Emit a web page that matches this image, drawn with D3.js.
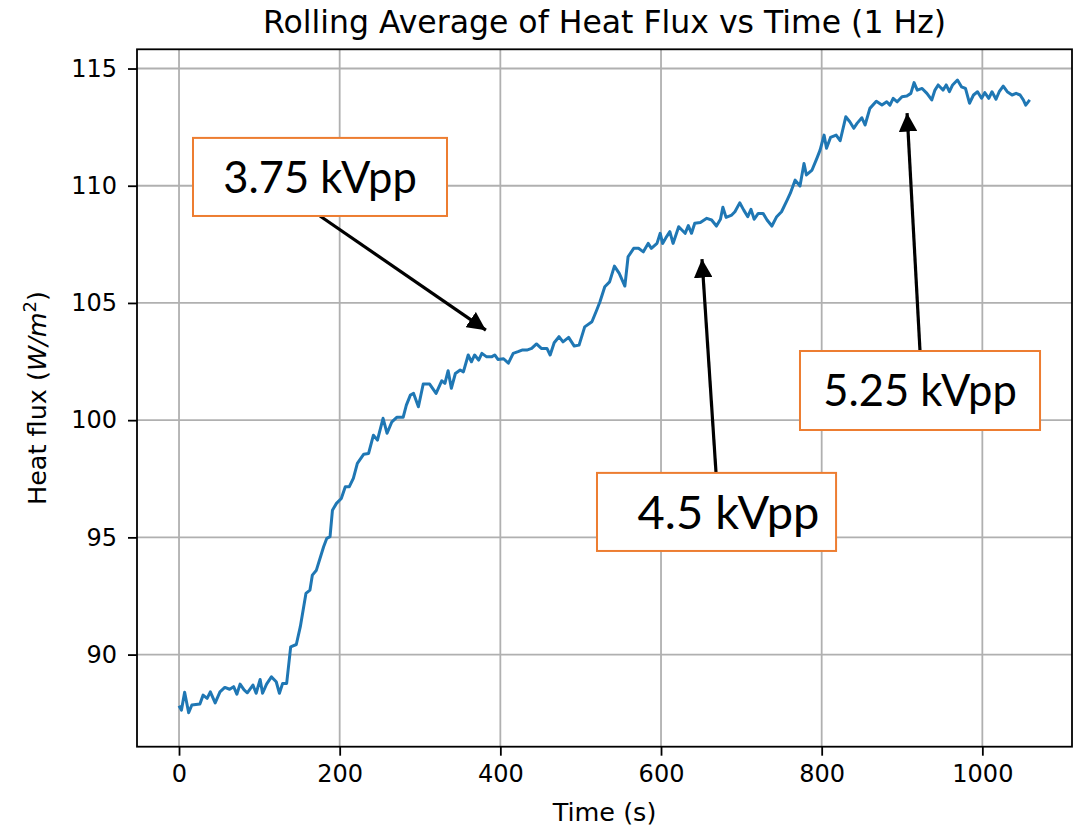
<!DOCTYPE html>
<html lang="en">
<head>
<meta charset="utf-8">
<title>Rolling Average of Heat Flux</title>
<script src="https://d3js.org/d3.v7.min.js"></script>
<style>
  body { margin: 0; background: #ffffff; }
  text { font-family: "DejaVu Sans", sans-serif; fill: #000; }
  .grid line { stroke: #b0b0b0; stroke-width: 1.8; }
  .note text { font-family: Lato, "Open Sans", sans-serif; }
</style>
</head>
<body>
<div id="chart"></div>
<script>
// time (s)
const timeSec = [0, 3, 7, 12, 16, 26, 30, 35, 39, 45, 51, 57, 63, 68, 72, 76, 81, 85, 92, 96,
  101, 104, 109, 115, 121, 125, 129, 134, 139, 146, 151, 158, 163, 166, 171, 180, 184, 188, 191, 196,
  202, 207, 212, 217, 222, 230, 236, 242, 247, 254, 259, 265, 271, 279, 283, 288, 292, 298, 304, 312,
  320, 327, 331, 335, 339, 344, 350, 354, 360, 364, 368, 373, 377, 383, 389, 393, 397, 404, 410, 416,
  422, 427, 433, 439, 445, 451, 458, 462, 467, 473, 478, 485, 492, 498, 505, 514, 520, 524, 530, 536,
  542, 548, 555, 559, 566, 572, 578, 584, 588, 595, 599, 602, 607, 611, 615, 622, 630, 634, 638, 642,
  649, 657, 663, 669, 674, 677, 681, 688, 692, 698, 703, 708, 712, 716, 721, 727, 732, 738, 744, 750,
  757, 761, 767, 773, 778, 781, 788, 794, 798, 803, 806, 811, 818, 823, 830, 835, 840, 844, 850, 854,
  860, 868, 875, 881, 885, 889, 894, 900, 906, 911, 915, 919, 925, 931, 937, 941, 945, 951, 955, 959,
  963, 969, 974, 979, 984, 989, 994, 999, 1003, 1008, 1012, 1017, 1021, 1026, 1031, 1037, 1042, 1047, 1051, 1054,
  1059];
// heat flux (W/m^2)
const heatFlux = [87.82, 87.63, 88.39, 87.52, 87.85, 87.89, 88.27, 88.13, 88.41, 87.94, 88.41, 88.60, 88.52, 88.63, 88.31, 88.74, 88.49, 88.37, 88.70, 88.35,
  88.94, 88.35, 88.74, 89.05, 88.84, 88.35, 88.77, 88.77, 90.33, 90.43, 91.19, 92.61, 92.75, 93.39, 93.60, 94.60, 94.96, 95.03, 96.16, 96.45,
  96.66, 97.16, 97.16, 97.52, 98.16, 98.55, 98.58, 99.36, 99.15, 100.08, 99.44, 99.93, 100.12, 100.12, 100.64, 101.07, 101.14, 100.57, 101.54, 101.54,
  101.14, 101.68, 101.57, 102.11, 101.36, 101.99, 102.14, 102.06, 102.78, 102.49, 102.78, 102.56, 102.85, 102.70, 102.70, 102.78, 102.59, 102.62, 102.43, 102.85,
  102.92, 102.99, 102.99, 103.06, 103.25, 103.06, 103.06, 102.78, 103.30, 103.56, 103.34, 103.53, 103.16, 103.20, 103.98, 104.20, 104.70, 105.05, 105.69, 105.90,
  106.57, 106.26, 105.72, 106.97, 107.33, 107.33, 107.18, 107.54, 107.33, 107.54, 107.97, 107.54, 107.83, 108.04, 107.54, 108.25, 107.97, 108.30, 107.97, 108.40,
  108.43, 108.61, 108.54, 108.28, 108.57, 109.08, 108.65, 108.75, 108.89, 109.27, 108.96, 108.68, 108.99, 108.57, 108.82, 108.82, 108.54, 108.28, 108.68, 108.89,
  109.39, 109.68, 110.24, 109.99, 110.95, 110.46, 110.67, 111.17, 111.52, 112.16, 111.60, 112.06, 112.16, 111.92, 112.94, 112.73, 112.45, 112.66, 112.90, 112.59,
  113.30, 113.60, 113.44, 113.58, 113.44, 113.73, 113.58, 113.80, 113.83, 113.94, 114.40, 114.08, 114.15, 113.94, 113.66, 114.08, 114.30, 114.08, 114.30, 114.01,
  114.30, 114.51, 114.22, 114.15, 113.52, 113.87, 114.01, 113.73, 113.97, 113.73, 114.01, 113.69, 114.01, 114.25, 114.01, 113.87, 113.94, 113.87, 113.66, 113.44,
  113.66];

const xTicks = [0, 200, 400, 600, 800, 1000];
const yTicks = [90, 95, 100, 105, 110, 115];
const xLim = [-52.3, 1111.6];
const yLim = [86.07, 115.82];

// annotation boxes and arrows, in data units
const noteLabels = ["3.75 kVpp", "4.5 kVpp", "5.25 kVpp"];
const noteBoxT = [[17.4, 333.6], [520.3, 817.9], [773.0, 1071.8]];
const noteBoxV = [[112.04, 108.71], [97.75, 94.42], [102.95, 99.58]];
const arrowTail = [[175.5, 108.71], [668.5, 97.75], [922.4, 102.95]];
const arrowTip = [[382.0, 103.84], [651.0, 106.87], [906.3, 113.1]];

const W = 1076, H = 832;
const margin = {top: 49.3, right: 4, bottom: 85.3, left: 137};
const tickFont = 24, labelFont = 25.5;

const svg = d3.select("#chart").append("svg")
  .attr("width", W).attr("height", H);

const x = d3.scaleLinear().domain(xLim).range([margin.left, W - margin.right]);
const y = d3.scaleLinear().domain(yLim).range([H - margin.bottom, margin.top]);

// grid
const grid = svg.append("g").attr("class", "grid");
grid.selectAll(".gx").data(xTicks).join("line")
  .attr("x1", d => x(d)).attr("x2", d => x(d))
  .attr("y1", y.range()[0]).attr("y2", y.range()[1]);
grid.selectAll(".gy").data(yTicks).join("line")
  .attr("y1", d => y(d)).attr("y2", d => y(d))
  .attr("x1", x.range()[0]).attr("x2", x.range()[1]);

// line
const pts = timeSec.map((t, i) => [t, heatFlux[i]]);
svg.append("path")
  .datum(pts)
  .attr("fill", "none")
  .attr("stroke", "#1f77b4")
  .attr("stroke-width", 3)
  .attr("stroke-linejoin", "round")
  .attr("d", d3.line().x(d => x(d[0])).y(d => y(d[1])));

// axes
const xAxis = svg.append("g")
  .attr("transform", `translate(0,${y.range()[0]})`)
  .call(d3.axisBottom(x).tickValues(xTicks).tickFormat(d3.format("d"))
    .tickSize(9).tickPadding(9).tickSizeOuter(0));
const yAxis = svg.append("g")
  .attr("transform", `translate(${x.range()[0]},0)`)
  .call(d3.axisLeft(y).tickValues(yTicks).tickFormat(d3.format("d"))
    .tickSize(9).tickPadding(11).tickSizeOuter(0));
[xAxis, yAxis].forEach(a => {
  a.select(".domain").remove();
  a.selectAll("line").attr("stroke", "#000").attr("stroke-width", 1.8);
  a.selectAll("text").attr("font-size", tickFont).attr("font-family", "DejaVu Sans").attr("fill", "#222");
});

// frame
svg.append("rect")
  .attr("x", x.range()[0]).attr("y", y.range()[1])
  .attr("width", x.range()[1] - x.range()[0])
  .attr("height", y.range()[0] - y.range()[1])
  .attr("fill", "none").attr("stroke", "#000").attr("stroke-width", 1.8);

// titles
svg.append("text")
  .attr("x", (x.range()[0] + x.range()[1]) / 2).attr("y", 33)
  .attr("text-anchor", "middle").attr("font-size", 31.5)
  .attr("fill", "#222")
  .text("Rolling Average of Heat Flux vs Time (1 Hz)");

svg.append("text")
  .attr("x", (x.range()[0] + x.range()[1]) / 2).attr("y", 821)
  .attr("text-anchor", "middle").attr("font-size", labelFont)
  .attr("fill", "#222")
  .text("Time (s)");

const yl = svg.append("text")
  .attr("transform", `translate(46,${(y.range()[0] + y.range()[1]) / 2}) rotate(-90)`)
  .attr("text-anchor", "middle").attr("font-size", labelFont)
  .attr("fill", "#222");
yl.append("tspan").text("Heat flux (");
yl.append("tspan").attr("font-style", "italic").text("W/m");
yl.append("tspan").attr("font-size", 18).attr("dy", -10).text("2");
yl.append("tspan").attr("dy", 10).text(")");

// annotations
const defs = svg.append("defs");
defs.append("marker")
  .attr("id", "head")
  .attr("viewBox", "0 0 10 10")
  .attr("refX", 10).attr("refY", 5)
  .attr("markerWidth", 5.8).attr("markerHeight", 5.8)
  .attr("markerUnits", "strokeWidth")
  .attr("orient", "auto")
  .append("path").attr("d", "M0,0 L10,5 L0,10 z").attr("fill", "#000");

const noteFont = [43.5, 47, 43.5];
const noteDx = [0, 12, 0];
const notes = svg.append("g").attr("class", "note");
noteLabels.forEach((lab, i) => {
  const x0 = x(noteBoxT[i][0]), x1 = x(noteBoxT[i][1]);
  const y0 = y(noteBoxV[i][0]), y1 = y(noteBoxV[i][1]);
  notes.append("line")
    .attr("x1", x(arrowTail[i][0])).attr("y1", y(arrowTail[i][1]))
    .attr("x2", x(arrowTip[i][0])).attr("y2", y(arrowTip[i][1]))
    .attr("stroke", "#000").attr("stroke-width", 3.2)
    .attr("marker-end", "url(#head)");
  notes.append("rect")
    .attr("x", x0).attr("y", y0)
    .attr("width", x1 - x0).attr("height", y1 - y0)
    .attr("fill", "#fff").attr("stroke", "#ed7d31").attr("stroke-width", 2);
  notes.append("text")
    .attr("x", (x0 + x1) / 2 + noteDx[i]).attr("y", (y0 + y1) / 2)
    .attr("dy", "0.36em")
    .attr("text-anchor", "middle")
    .attr("font-size", noteFont[i])
    .text(lab);
});
</script>
</body>
</html>
